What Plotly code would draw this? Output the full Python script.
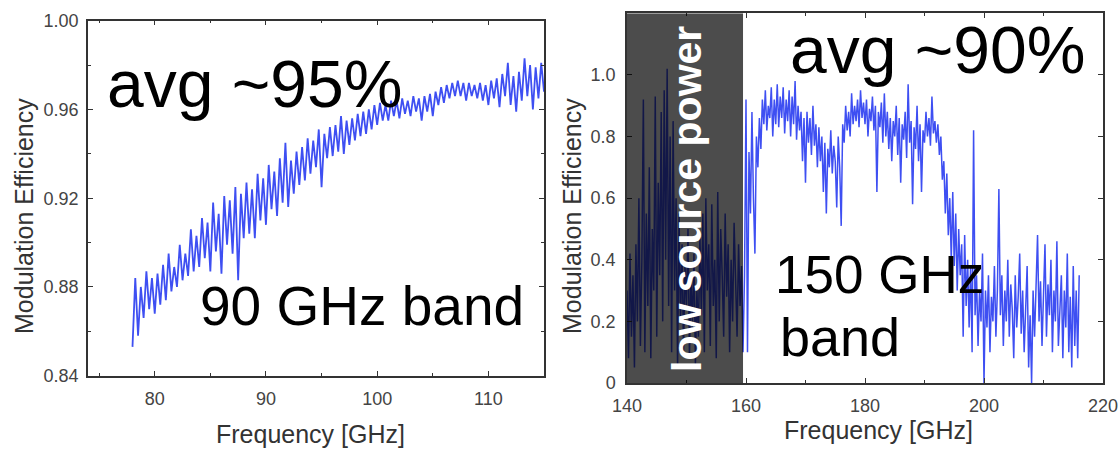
import plotly.graph_objects as go

# ---------------- data ----------------
# 90 GHz band: frequency grid 78.0 .. 115.0 GHz, step 0.25 GHz
f90_start, f90_step = 78.0, 0.25
eff_90 = [
    0.853, 0.884, 0.858, 0.880, 0.866, 0.887, 0.870, 0.884, 0.868, 0.886,
    0.872, 0.890, 0.874, 0.895, 0.878, 0.889, 0.880, 0.899, 0.883, 0.895,
    0.885, 0.906, 0.887, 0.903, 0.889, 0.911, 0.893, 0.909, 0.887, 0.918,
    0.896, 0.913, 0.886, 0.921, 0.899, 0.919, 0.895, 0.925, 0.883, 0.922,
    0.902, 0.927, 0.904, 0.924, 0.902, 0.931, 0.910, 0.929, 0.908, 0.935,
    0.915, 0.932, 0.912, 0.938, 0.918, 0.945, 0.916, 0.937, 0.922, 0.941,
    0.926, 0.943, 0.928, 0.947, 0.931, 0.946, 0.934, 0.951, 0.925, 0.949,
    0.938, 0.952, 0.939, 0.953, 0.941, 0.957, 0.940, 0.955, 0.944, 0.956,
    0.946, 0.958, 0.948, 0.959, 0.949, 0.960, 0.951, 0.962, 0.953, 0.963,
    0.955, 0.962, 0.955, 0.964, 0.957, 0.964, 0.956, 0.965, 0.958, 0.964,
    0.957, 0.966, 0.959, 0.965, 0.955, 0.966, 0.959, 0.967, 0.957, 0.968,
    0.962, 0.970, 0.963, 0.971, 0.965, 0.972, 0.966, 0.973, 0.966, 0.972,
    0.964, 0.972, 0.966, 0.971, 0.965, 0.972, 0.964, 0.971, 0.962, 0.973,
    0.965, 0.974, 0.961, 0.976, 0.966, 0.981, 0.962, 0.975, 0.959, 0.977,
    0.964, 0.983, 0.966, 0.980, 0.960, 0.979, 0.965, 0.981, 0.968,
]

# 150 GHz band: frequency grid 140.0 .. 216.0 GHz, step 0.25 GHz
f150_start, f150_step = 140.0, 0.25
eff_150 = [
    0.30, 0.08, 0.42, 0.15, 0.35, 0.05, 0.45, 0.20, 0.60, 0.12,
    0.40, 0.92, 0.10, 0.55, 0.25, 0.70, 0.08, 0.50, 0.30, 0.93,
    0.15, 0.65, 0.35, 0.88, 0.20, 0.95, 0.40, 1.02, 0.25, 0.80,
    0.10, 0.85, 0.30, 0.60, 0.05, 0.55, 0.20, 0.45, 0.10, 0.38,
    0.25, 0.50, 0.08, 0.35, 0.18, 0.42, 0.06, 0.30, 0.15, 0.48,
    0.22, 0.55, 0.10, 0.60, 0.30, 0.45, 0.12, 0.58, 0.25, 0.40,
    0.08, 0.62, 0.20, 0.50, 0.35, 0.15, 0.55, 0.28, 0.45, 0.10,
    0.40, 0.20, 0.52, 0.30, 0.15, 0.45, 0.25, 0.38, 0.10, 0.35,
    0.92, 0.10, 0.75, 0.55, 0.88, 0.60, 0.42, 0.80, 0.70, 0.86,
    0.76, 0.92, 0.84, 0.95, 0.82, 0.90, 0.86, 0.96, 0.80, 0.92,
    0.84, 0.97, 0.83, 0.93, 0.86, 0.96, 0.81, 0.92, 0.85, 0.95,
    0.80, 0.93, 0.84, 0.98, 0.79, 0.90, 0.82, 0.88, 0.72, 0.86,
    0.65, 0.88, 0.78, 0.86, 0.74, 0.90, 0.77, 0.84, 0.70, 0.83,
    0.72, 0.80, 0.62, 0.78, 0.55, 0.76, 0.70, 0.82, 0.68, 0.77,
    0.72, 0.57, 0.80, 0.70, 0.51, 0.84, 0.78, 0.90, 0.82, 0.88,
    0.80, 0.94, 0.84, 0.90, 0.85, 0.92, 0.83, 0.95, 0.86, 0.91,
    0.84, 0.92, 0.80, 0.89, 0.85, 0.93, 0.82, 0.90, 0.62, 0.88,
    0.83, 0.91, 0.78, 0.94, 0.80, 0.88, 0.76, 0.86, 0.72, 0.85,
    0.80, 0.90, 0.74, 0.86, 0.65, 0.84, 0.79, 0.88, 0.73, 0.97,
    0.78, 0.85, 0.58, 0.83, 0.76, 0.90, 0.72, 0.84, 0.62, 0.82,
    0.78, 0.88, 0.80, 0.86, 0.77, 0.93, 0.81, 0.85, 0.78, 0.84,
    0.74, 0.80, 0.66, 0.72, 0.55, 0.68, 0.48, 0.60, 0.40, 0.62,
    0.38, 0.55, 0.30, 0.50, 0.35, 0.45, 0.15, 0.48, 0.25, 0.40,
    0.18, 0.38, 0.10, 0.82, 0.22, 0.35, 0.12, 0.30, 0.20, 0.42,
    0.00, 0.30, 0.18, 0.35, 0.10, 0.28, 0.20, 0.38, 0.15, 0.30,
    0.63, 0.22, 0.35, 0.12, 0.30, 0.20, 0.40, 0.15, 0.32, 0.24,
    0.08, 0.35, 0.18, 0.28, 0.42, 0.16, 0.30, 0.10, 0.25, 0.38,
    0.05, 0.22, 0.00, 0.30, 0.15, 0.35, 0.48, 0.20, 0.33, 0.12,
    0.28, 0.45, 0.15, 0.32, 0.22, 0.40, 0.10, 0.30, 0.20, 0.46,
    0.12, 0.25, 0.35, 0.08, 0.30, 0.18, 0.42, 0.10, 0.28, 0.05,
    0.38, 0.12, 0.30, 0.08, 0.35,
]

freq_90 = [round(f90_start + f90_step * i, 3) for i in range(len(eff_90))]
freq_150 = [round(f150_start + f150_step * i, 3) for i in range(len(eff_150))]

y_ticks_90 = [0.84, 0.88, 0.92, 0.96, 1.00]
y_ticktext_90 = ["0.84", "0.88", "0.92", "0.96", "1.00"]
y_ticks_150 = [0, 0.2, 0.4, 0.6, 0.8, 1.0]
y_ticktext_150 = ["0", "0.2", "0.4", "0.6", "0.8", "1.0"]
low_power_band = [140, 159.5]

# ---------------- styling ----------------
W, H = 1119, 451
FONT = "Liberation Sans, Arial, Helvetica, sans-serif"
BLUE = "rgba(35,55,240,0.88)"
AX = "#333333"


def px(x):
    """screen pixel x -> paper fraction"""
    return x / W


def py(y):
    """screen pixel y -> paper fraction"""
    return 1 - y / H


fig = go.Figure()
fig.add_trace(go.Scatter(x=freq_90, y=eff_90, mode="lines",
                         line=dict(color=BLUE, width=1.8),
                         xaxis="x", yaxis="y", showlegend=False, hoverinfo="skip"))
fig.add_trace(go.Scatter(x=freq_150, y=eff_150, mode="lines",
                         line=dict(color=BLUE, width=1.5),
                         xaxis="x2", yaxis="y2", showlegend=False, hoverinfo="skip"))

common = dict(showline=True, linecolor=AX, linewidth=1.5, mirror="ticks",
              ticks="inside", ticklen=5, tickcolor=AX, tickwidth=1,
              showgrid=False, zeroline=False, automargin=False,
              tickfont=dict(family=FONT, size=18, color="#444444"))

fig.update_layout(
    width=W, height=H,
    margin=dict(l=0, r=0, t=0, b=0, pad=0, autoexpand=False),
    showlegend=False,
    paper_bgcolor="white", plot_bgcolor="white",
    xaxis=dict(domain=[px(88), px(544)], range=[74, 115], anchor="y",
               tick0=80, dtick=10, ticklabelstandoff=6,
               minor=dict(ticks="inside", tick0=75, dtick=5, ticklen=3, tickcolor=AX),
               **common),
    yaxis=dict(domain=[py(375.7), py(20.7)], range=[0.84, 1.00], anchor="x",
               tickvals=y_ticks_90, ticktext=y_ticktext_90, ticklabelstandoff=4,
               minor=dict(ticks="inside", tick0=0.84, dtick=0.02, ticklen=3, tickcolor=AX),
               **common),
    xaxis2=dict(domain=[px(627), px(1103)], range=[140, 220], anchor="y2",
                tick0=140, dtick=20, ticklabelstandoff=6,
                minor=dict(ticks="inside", tick0=140, dtick=10, ticklen=3, tickcolor=AX),
                **common),
    yaxis2=dict(domain=[py(383), py(13.3)], range=[0, 1.2], anchor="x2",
                tickvals=y_ticks_150, ticktext=y_ticktext_150, ticklabelstandoff=6,
                **common),
)

# shaded low-source-power region (drawn over the data, darkening it)
fig.add_shape(type="rect", xref="x2", yref="y2",
              x0=low_power_band[0], x1=low_power_band[1], y0=0, y1=1.2,
              fillcolor="rgba(0,0,0,0.70)", line=dict(width=0), layer="above")

annots = [
    dict(text="Modulation Efficiency", x=px(24), y=py(216), textangle=-90,
         font=dict(size=25, color=AX)),
    dict(text="Modulation Efficiency", x=px(572), y=py(216), textangle=-90,
         font=dict(size=25, color=AX)),
    dict(text="Frequency [GHz]", x=px(310), y=py(434),
         font=dict(size=25, color=AX)),
    dict(text="Frequency [GHz]", x=px(878), y=py(430),
         font=dict(size=25, color=AX)),
    dict(text="avg ~95%", x=px(105), y=py(84), xanchor="left",
         font=dict(size=66, color="black")),
    dict(text="90 GHz band", x=px(198), y=py(306), xanchor="left",
         font=dict(size=55, color="black")),
    dict(text="avg ~90%", x=px(788), y=py(50), xanchor="left",
         font=dict(size=66, color="black")),
    dict(text="150 GHz", x=px(773), y=py(274), xanchor="left",
         font=dict(size=53, color="black")),
    dict(text="band", x=px(778), y=py(337), xanchor="left",
         font=dict(size=54, color="black")),
    dict(text="<b>low source power</b>", x=px(687), y=py(199), textangle=-90,
         font=dict(size=41, color="white")),
]
for a in annots:
    a.setdefault("xanchor", "center")
    a["font"]["family"] = FONT
    fig.add_annotation(xref="paper", yref="paper", yanchor="middle",
                       showarrow=False, **a)

# remove the browser's default 8 px body margin so the figure fills the window
fig.write_html("out.html",
               config={"displayModeBar": False},
               post_script="document.body.style.margin='0px';"
                           "document.body.style.overflow='hidden';")
